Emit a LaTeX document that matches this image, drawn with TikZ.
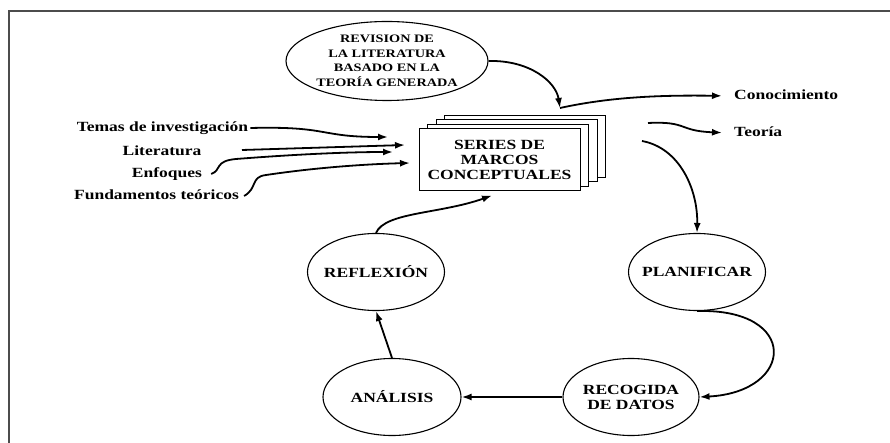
\documentclass[tikz,border=0pt]{standalone}
\usepackage{fontspec}
\setmainfont{Liberation Serif}[FakeStretch=1.25]
\usetikzlibrary{shapes.geometric,arrows.meta}
\begin{document}
\begin{tikzpicture}[x=1pt,y=-1pt,
    phase/.style={draw,line width=1.1pt,ellipse,inner sep=-8pt,minimum width=137pt,minimum height=77pt,align=center,font=\fontsize{14}{15}\selectfont\bfseries},
    sheet/.style={draw,line width=1pt,fill=white,minimum width=161pt,minimum height=62pt},
    lbl/.style={inner sep=2pt,text height=9.5pt,text depth=3pt,font=\fontsize{14}{16}\selectfont\bfseries},
    flow/.style={line width=1.8pt,-{Latex[length=10pt,width=7pt]}}]
    \useasboundingbox (0,0) rectangle (890,443);
    \draw[line width=2pt,black!70] (8.7,443) -- (8.7,10.8) -- (890,10.8);
    % ciclo
    \node[phase,minimum width=202pt,minimum height=79pt,font=\fontsize{11.4}{14.5}\selectfont\bfseries] (rev) at (387,61) {REVISION DE\\LA LITERATURA\\BASADO EN LA\\TEORÍA GENERADA};
    \node[phase] (plan) at (697,272) {PLANIFICAR};
    \node[phase,minimum width=136pt] (rec) at (631,397) {RECOGIDA\\DE DATOS};
    \node[phase,minimum width=138pt] (ana) at (392,397) {ANÁLISIS};
    \node[phase] (ref) at (376,272) {REFLEXIÓN};
    \foreach \k in {3,2,1}
        \node[sheet,xshift={8.5pt*\k},yshift={4.5pt*\k}] (sheet\k) at (499.5,160) {};
    \node[sheet,align=center,font=\fontsize{14}{15}\selectfont\bfseries] (series) at (499.5,160) {SERIES DE\\MARCOS\\CONCEPTUALES};
    % entradas y salidas
    \node[lbl] (tem) at (162.5,128) {Temas de investigación};
    \node[lbl] (lit) at (162,152) {Literatura};
    \node[lbl] (enf) at (167,174) {Enfoques};
    \node[lbl] (fun) at (156.5,196) {Fundamentos teóricos};
    \node[lbl,anchor=west] (con) at (732,96) {Conocimiento};
    \node[lbl,anchor=west] (teo) at (732,133) {Teoría};
    \coordinate (hub) at (560,108);
    \coordinate (litstart) at (242,150);
    \coordinate (teostart) at (648,123);
    \coordinate (planstart) at (642,141);
    \coordinate (in1) at (388,137);
    \coordinate (in2) at (405,145);
    \coordinate (in3) at (393,152);
    \coordinate (in4) at (410,163);
    \draw[flow] (rev.east) .. controls (530,60) and (556,82) .. (hub);
    \draw[flow,shorten >=10pt] (hub) .. controls (610,97) and (660,95) .. (con.west);
    \draw[flow,shorten >=10pt] (teostart) .. controls (688,121) and (678,131) .. (teo.west);
    \draw[flow] (planstart) .. controls (680,148) and (698,190) .. (plan.north);
    \draw[flow] (plan.south) .. controls (800,308) and (795,392) .. (rec.east);
    \draw[flow] (rec) -- (ana);
    \draw[flow] (ana.north) -- (ref.south);
    \draw[flow] (ref.north) .. controls (385,212) and (440,214) .. ([shift={(-7.5,4)}]series.south);
    \draw[flow] (tem.east) .. controls (330,126) and (318,137) .. (in1);
    \draw[flow] (litstart) -- (in2);
    \draw[flow] ([xshift=7pt]enf.east) .. controls (222,170) and (214,161) .. (236,159) .. controls (300,154) and (350,152) .. (in3);
    \draw[flow] ([xshift=3pt]fun.east) .. controls (258,188) and (250,177) .. (266,175) .. controls (320,167) and (370,164) .. (in4);
\end{tikzpicture}
\end{document}
